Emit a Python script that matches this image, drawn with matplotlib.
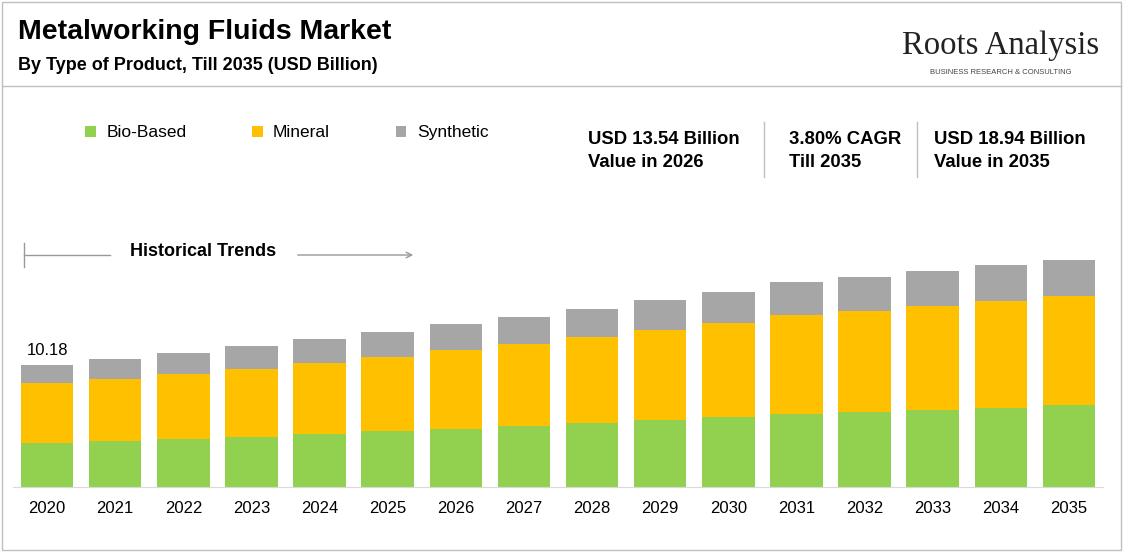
import matplotlib
matplotlib.use("Agg")
import matplotlib.pyplot as plt
from matplotlib.patches import Rectangle
import numpy as np

GREEN, YELLOW, GREY = "#92D050", "#FFC000", "#A6A6A6"
plt.rcParams.update({"font.family": ["Liberation Sans", "DejaVu Sans"]})

W, H = 1123, 553
years = list(range(2020, 2036))
# USD billion
bio = [3.67, 3.83, 4.00, 4.17, 4.42, 4.67, 4.83, 5.08, 5.33, 5.58, 5.83, 6.08, 6.25, 6.42, 6.58, 6.83]
mineral = [5.00, 5.17, 5.42, 5.67, 5.92, 6.17, 6.58, 6.83, 7.17, 7.50, 7.83, 8.25, 8.42, 8.67, 8.92, 9.08]
synthetic = [1.51, 1.67, 1.75, 1.92, 2.00, 2.08, 2.17, 2.25, 2.33, 2.50, 2.58, 2.75, 2.83, 2.92, 3.00, 3.03]

fig = plt.figure(figsize=(W / 100, H / 100), dpi=100)

def fx(px): return px / W
def fy(py): return 1 - py / H

# outer box and header separator
fig.patches.append(Rectangle((fx(2), fy(550)), fx(1119), (548) / H, transform=fig.transFigure,
                             fill=False, edgecolor="#BFBFBF", lw=1))
fig.add_artist(plt.Line2D([fx(2), fx(1121)], [fy(86), fy(86)], color="#BFBFBF", lw=1))

fig.text(fx(18), fy(32), "Metalworking Fluids Market", fontsize=20.5, fontweight="bold", va="center")
fig.text(fx(18), fy(66), "By Type of Product, Till 2035 (USD Billion)", fontsize=13,
         fontweight="bold", va="center")
fig.text(fx(1001), fy(46), "Roots Analysis", fontsize=23.5, family=["Liberation Serif"],
         ha="center", va="center", color="#222222")
fig.text(fx(1001), fy(72), "BUSINESS RESEARCH & CONSULTING", fontsize=5.5, ha="center",
         va="center", color="#444444")

ax = fig.add_axes([fx(13), fy(487), fx(1090), (487 - 100) / H])
x = np.arange(len(years))
b1 = np.array(bio); b2 = np.array(mineral); b3 = np.array(synthetic)
ax.bar(x, b1, width=0.77, color=GREEN, label="Bio-Based")
ax.bar(x, b2, width=0.77, bottom=b1, color=YELLOW, label="Mineral")
ax.bar(x, b3, width=0.77, bottom=b1 + b2, color=GREY, label="Synthetic")
ax.set_xlim(-0.5, 15.5)
ax.set_ylim(0, 387 / 12)
ax.set_yticks([])
ax.set_xticks(x)
ax.set_xticklabels(years, fontsize=12)
ax.tick_params(axis="x", length=0, pad=10)
for s in ["top", "right", "left"]:
    ax.spines[s].set_visible(False)
ax.spines["bottom"].set_color("#D9D9D9")
ax.text(0, b1[0] + b2[0] + b3[0] + 0.6, f"{b1[0]+b2[0]+b3[0]:.2f}", ha="center",
        va="bottom", fontsize=12)

ax.legend(loc="upper left", bbox_to_anchor=(0.052, 0.975), ncol=3, frameon=False,
          fontsize=12.5, handlelength=0.6, handleheight=0.6, handletextpad=0.6,
          columnspacing=3.8)

# historical trends marker
fig.add_artist(plt.Line2D([fx(24), fx(24)], [fy(243), fy(267)], color="#999999", lw=1))
fig.add_artist(plt.Line2D([fx(24), fx(110)], [fy(255), fy(255)], color="#999999", lw=1))
fig.text(fx(203), fy(252), "Historical Trends", fontsize=13, fontweight="bold",
         ha="center", va="center")
ax.annotate("", xy=(fx(416), fy(255)), xytext=(fx(295), fy(255)), xycoords="figure fraction",
            arrowprops=dict(arrowstyle="->", color="#999999", lw=1))

# key stats
for px, txt in [(588, "USD 13.54 Billion\nValue in 2026"), (789, "3.80% CAGR\nTill 2035"),
                (934, "USD 18.94 Billion\nValue in 2035")]:
    fig.text(fx(px), fy(151), txt, fontsize=13.3, fontweight="bold", va="center",
             linespacing=1.45)
for px in [764, 917]:
    fig.add_artist(plt.Line2D([fx(px), fx(px)], [fy(122), fy(177)], color="#BFBFBF", lw=1))

fig.savefig("out.png", dpi=100)
